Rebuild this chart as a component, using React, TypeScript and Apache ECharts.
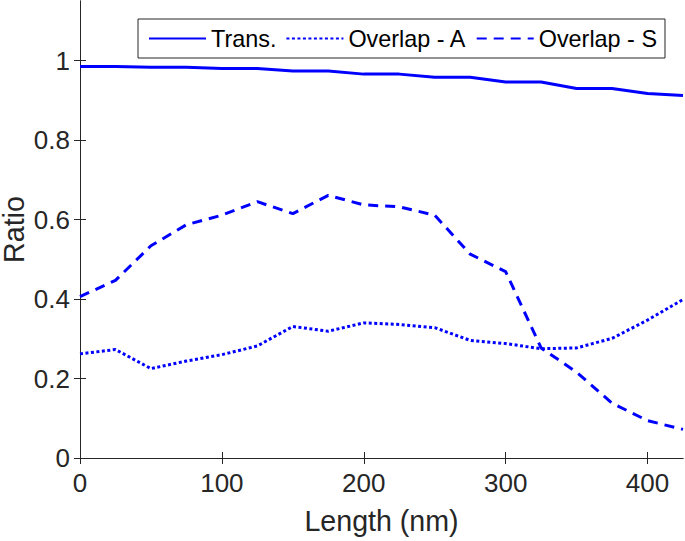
import React, { useEffect, useRef } from "react";
import * as echarts from "echarts";

const lengths = [0, 25, 50, 75, 100, 125, 150, 175, 200, 225, 250, 275, 300, 325, 350, 375, 400, 425];
const trans = [0.985, 0.985, 0.983, 0.983, 0.980, 0.980, 0.974, 0.974, 0.966, 0.966, 0.958, 0.958, 0.946, 0.946, 0.930, 0.930, 0.917, 0.912];
const overlapA = [0.262, 0.273, 0.225, 0.244, 0.260, 0.282, 0.331, 0.319, 0.340, 0.336, 0.328, 0.296, 0.288, 0.275, 0.277, 0.301, 0.347, 0.399];
const overlapS = [0.406, 0.447, 0.534, 0.587, 0.611, 0.645, 0.615, 0.661, 0.637, 0.632, 0.611, 0.513, 0.469, 0.277, 0.216, 0.138, 0.094, 0.072];
const seriesNames = ["Trans.", "Overlap - A", "Overlap - S"];
const xTicks = [0, 100, 200, 300, 400];
const yTicks = [0, 0.2, 0.4, 0.6, 0.8, 1];

const FONT = "'Liberation Sans', Helvetica, Arial, sans-serif";
const AX = "#262626";
const BLUE = "#0000FF";

export default function App() {
  const ref = useRef<HTMLDivElement>(null);
  useEffect(() => {
    if (!ref.current) return;
    const chart = echarts.init(ref.current, null, { renderer: "svg" });
    const xBase = {
      type: "value",
      min: 0,
      max: 425,
      interval: 100,
      axisLine: { show: true, lineStyle: { color: AX, width: 1 } },
      axisTick: { show: true, inside: true, length: 6, lineStyle: { color: AX }, customValues: xTicks },
      splitLine: { show: false },
    };
    const yBase = {
      type: "value",
      min: 0,
      max: 1.15,
      interval: 0.2,
      axisLine: { show: true, lineStyle: { color: AX, width: 1 } },
      axisTick: { show: true, inside: true, length: 6, lineStyle: { color: AX }, customValues: yTicks },
      splitLine: { show: false },
    };
    const mk = (name: string, vals: number[], type: any) => ({
      name,
      type: "line",
      data: lengths.map((x, i) => [x, vals[i]]),
      symbol: "none",
      showSymbol: false,
      xAxisIndex: 0,
      yAxisIndex: 0,
      lineStyle: { color: BLUE, width: 3, type },
      itemStyle: { color: BLUE },
    });
    chart.setOption({
      animation: false,
      backgroundColor: "#ffffff",
      textStyle: { fontFamily: FONT },
      grid: { left: 80, right: 2, top: 1, bottom: 83, containLabel: false, outerBoundsMode: "none" },
      legend: {
        left: 138,
        top: 19,
        orient: "horizontal",
        itemWidth: 57,
        itemHeight: 14,
        itemGap: 9,
        padding: [7, 8, 7, 10],
        borderColor: AX,
        borderWidth: 1,
        backgroundColor: "#ffffff",
        itemStyle: { opacity: 0 },
        textStyle: { fontFamily: FONT, fontSize: 23.4, color: "#000000", lineHeight: 25 },
        data: seriesNames,
      },
      xAxis: [
        {
          ...xBase,
          position: "bottom",
          name: "Length (nm)",
          nameLocation: "middle",
          nameGap: 48,
          nameMoveOverlap: false,
          nameTextStyle: { fontFamily: FONT, fontSize: 28.6, color: AX },
          axisLabel: { show: true, customValues: xTicks, margin: 12, fontFamily: FONT, fontSize: 26, color: AX },
        },
        {
          ...xBase,
          position: "top",
          axisLabel: { show: false },
        },
      ],
      yAxis: [
        {
          ...yBase,
          position: "left",
          name: "Ratio",
          nameLocation: "middle",
          nameRotate: 90,
          nameGap: 52,
          nameMoveOverlap: false,
          nameTextStyle: { fontFamily: FONT, fontSize: 28.6, color: AX },
          axisLabel: {
            show: true,
            customValues: yTicks,
            margin: 10,
            fontFamily: FONT,
            fontSize: 26,
            color: AX,
            formatter: (v: number) => String(Math.round(v * 10) / 10),
          },
        },
        {
          ...yBase,
          position: "right",
          axisLabel: { show: false },
        },
      ],
      series: [
        mk(seriesNames[0], trans, "solid"),
        mk(seriesNames[1], overlapA, [3, 2.5]),
        mk(seriesNames[2], overlapS, [10, 7]),
      ],
    });
    return () => chart.dispose();
  }, []);
  return <div ref={ref} style={{ width: 685, height: 541, position: "absolute", left: 0, top: 0 }} />;
}
